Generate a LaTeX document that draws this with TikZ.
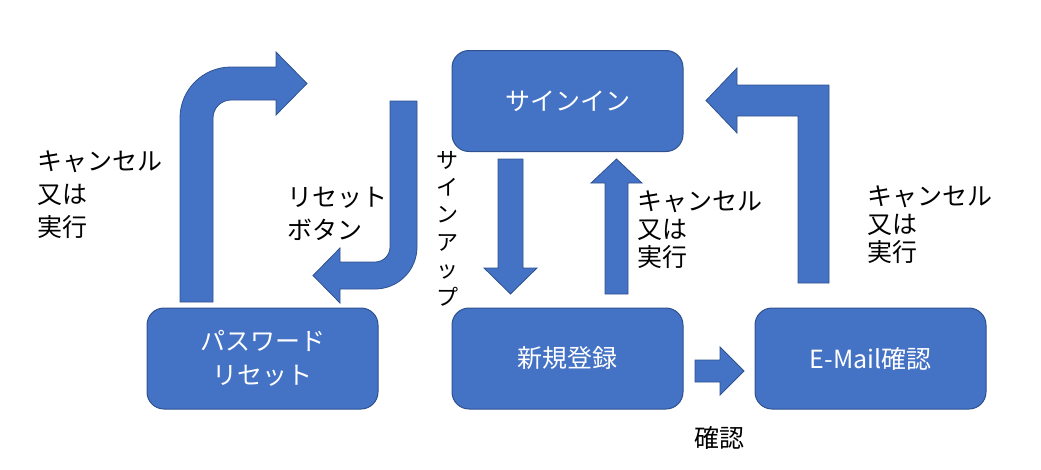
\documentclass[tikz,border=0pt]{standalone}
\usepackage{fontspec}
\setmainfont{Noto Sans CJK JP}
\definecolor{fillblue}{HTML}{4472C4}
\definecolor{edgeblue}{HTML}{2F528F}
\begin{document}
\begin{tikzpicture}[x=1pt,y=-1pt,
  box/.style={draw=edgeblue,fill=fillblue,line width=1pt,rounded corners=17pt,
    minimum width=231pt,minimum height=101pt,inner sep=0pt,text=white,align=center,
    font=\fontsize{25}{34}\selectfont},
  blockarrow/.style={draw=edgeblue,fill=fillblue,line width=0.8pt,line join=miter},
  lblwide/.style={align=left,anchor=west,inner sep=0pt,font=\fontsize{25}{33}\selectfont},
  lblnarrow/.style={align=left,anchor=west,inner sep=0pt,font=\fontsize{25}{28}\selectfont},
  vlbl/.style={align=center,inner sep=0pt,font=\fontsize{22}{27.4}\selectfont}]
\useasboundingbox (0,0) rectangle (1041,469);

% boxes
\node[box] (signin) at (567.5,101) {サインイン};
\node[box] (pwreset) at (262.5,358.5) {パスワード\\リセット};
\node[box] (register) at (567.5,358.5) {新規登録};
\node[box] (email) at (870.5,358.5) {E-Mail確認};

% down arrow: signin -> register
\draw[blockarrow] (498,159) -- (523,159) -- (523,268) -- (537,268) -- (510.5,294)
  -- (484,268) -- (498,268) -- cycle;
% up arrow: register -> signin
\draw[blockarrow] (605,294) -- (628,294) -- (628,183) -- (642,183) -- (616.5,159)
  -- (591,183) -- (605,183) -- cycle;
% right arrow: register -> email
\draw[blockarrow] (695,360) -- (720,360) -- (720,347) -- (744,371) -- (720,395)
  -- (720,382) -- (695,382) -- cycle;
% bent arrow: email -> signin
\draw[blockarrow] (798,283) -- (798,116) -- (737,116) -- (737,133) -- (706,100.5)
  -- (737,68) -- (737,85) -- (829,85) -- (829,283) -- cycle;
% bent arrow: pwreset -> up and right
\draw[blockarrow] (180,302) -- (180,118) .. controls (180,89.8) and (202.8,67) .. (231,67)
  -- (276,67) -- (276,52) -- (307,83.5) -- (276,115) -- (276,100) -- (231,100)
  .. controls (221.1,100) and (213,108.1) .. (213,118) -- (213,302) -- cycle;
% bent arrow: reset button -> pwreset
\draw[blockarrow] (390,101) -- (417,101) -- (417,247) .. controls (417,270.2) and (398.2,289) .. (375,289)
  -- (340,289) -- (340,303) -- (313,275.5) -- (340,248) -- (340,262) -- (375,262)
  .. controls (383.3,262) and (390,255.3) .. (390,247) -- cycle;

% labels
\node[lblwide] (lblleft) at (37,195) {キャンセル\\又は\\実行};
\node[lblwide] (lblreset) at (287,213.5) {リセット\\ボタン};
\node[lblnarrow] (lblmid) at (637,230) {キャンセル\\又は\\実行};
\node[lblnarrow] (lblright) at (867,225) {キャンセル\\又は\\実行};
\node[vlbl] (lblsignup) at (447,228.5) {サ\\イ\\ン\\ア\\ッ\\プ};
\node[font=\fontsize{25}{30}\selectfont,inner sep=0pt] (lblconfirm) at (719,438) {確認};
\end{tikzpicture}
\end{document}
